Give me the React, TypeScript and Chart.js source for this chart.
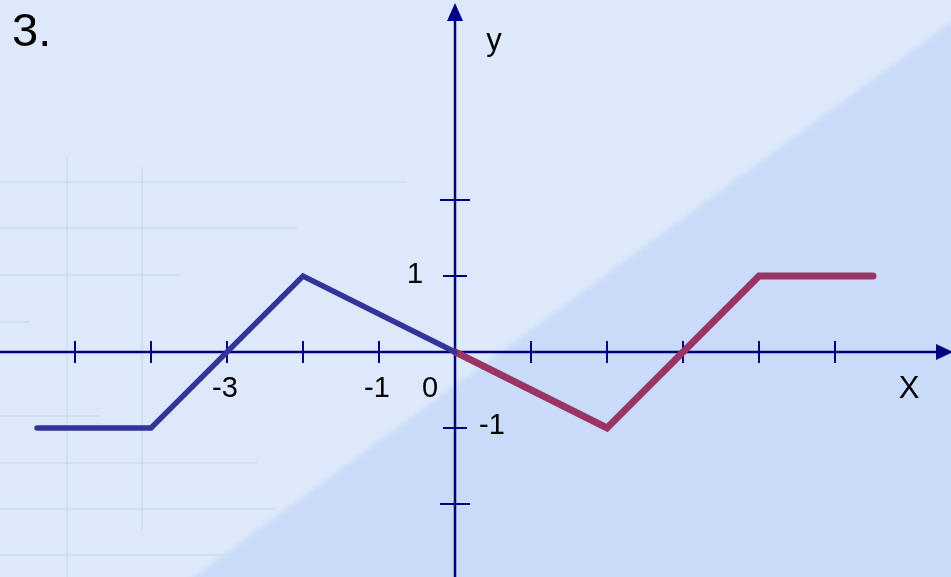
import React, { useEffect, useRef } from "react";
import { Chart, registerables } from "chart.js";

Chart.register(...registerables);

// ---- data ----
const blueX = [-5.5, -4, -2, 0];
const blueY = [-1, -1, 1, 0];
const redX = [0, 2, 4, 5.5];
const redY = [0, -1, 1, 1];
const xTickValues = [-5, -4, -3, -2, -1, 1, 2, 3, 4, 5];
const yTickValues = [-2, -1, 1, 2];
const xLabelValues = [-3, -1];
const xLabelTexts = ["-3", "-1"];
const yLabelValues = [1, -1];
const yLabelTexts = ["1", "-1"];
const originLabel = "0";
const xAxisName = "X";
const yAxisName = "y";
const titleText = "3.";

// visible window of the coordinate plane
const X_MIN = -5.987;
const X_MAX = 6.526;
const Y_MIN = -2.961;
const Y_MAX = 4.632;

const W = 951;
const H = 577;
const NAVY = "#000080";
const FONT = '"Liberation Sans", Arial, sans-serif';

const decoPlugin = {
  id: "deco",
  beforeDraw(chart: any) {
    const { ctx } = chart;
    const w = chart.width;
    const h = chart.height;
    ctx.save();
    // light background
    ctx.fillStyle = "#dde9fb";
    ctx.fillRect(0, 0, w, h);
    // faint decorative grid on the left
    ctx.strokeStyle = "rgba(150,175,215,0.17)";
    ctx.lineWidth = 2;
    const vLines = [
      [67, 157, 577],
      [142, 167, 530],
    ];
    vLines.forEach(([x, y0, y1]) => {
      ctx.beginPath();
      ctx.moveTo(x, y0);
      ctx.lineTo(x, y1);
      ctx.stroke();
    });
    const hLines = [
      [182, 407],
      [228, 297],
      [275, 180],
      [322, 30],
      [416, 101],
      [463, 257],
      [509, 275],
      [555, 553],
    ];
    hLines.forEach(([y, x1]) => {
      ctx.beginPath();
      ctx.moveTo(0, y);
      ctx.lineTo(x1, y);
      ctx.stroke();
    });
    // darker diagonal region
    ctx.filter = "blur(2px)";
    ctx.fillStyle = "#c9dbf8";
    ctx.beginPath();
    ctx.moveTo(180, h + 10);
    ctx.lineTo(w + 20, 22 - 0.72 * 20);
    ctx.lineTo(w + 20, h + 10);
    ctx.closePath();
    ctx.fill();
    ctx.filter = "none";
    ctx.restore();
  },
  beforeDatasetsDraw(chart: any) {
    const { ctx } = chart;
    const xs = chart.scales.x;
    const ys = chart.scales.y;
    const ox = xs.getPixelForValue(0);
    const oy = ys.getPixelForValue(0);
    const w = chart.width;
    const h = chart.height;
    ctx.save();
    ctx.strokeStyle = NAVY;
    ctx.fillStyle = NAVY;
    // x axis
    ctx.lineWidth = 2.5;
    ctx.beginPath();
    ctx.moveTo(0, oy);
    ctx.lineTo(w - 10, oy);
    ctx.stroke();
    // y axis
    ctx.beginPath();
    ctx.moveTo(ox, h);
    ctx.lineTo(ox, 15);
    ctx.stroke();
    // arrows
    ctx.beginPath();
    ctx.moveTo(w + 2, oy);
    ctx.lineTo(w - 15, oy - 8);
    ctx.lineTo(w - 15, oy + 8);
    ctx.closePath();
    ctx.fill();
    ctx.beginPath();
    ctx.moveTo(ox, 3);
    ctx.lineTo(ox - 8, 21);
    ctx.lineTo(ox + 8, 21);
    ctx.closePath();
    ctx.fill();
    // ticks
    ctx.lineWidth = 2;
    xTickValues.forEach((v) => {
      const px = xs.getPixelForValue(v);
      ctx.beginPath();
      ctx.moveTo(px, oy - 11);
      ctx.lineTo(px, oy + 11);
      ctx.stroke();
    });
    yTickValues.forEach((v) => {
      const py = ys.getPixelForValue(v);
      const half = Math.abs(v) > 1 ? 15 : 12;
      ctx.beginPath();
      ctx.moveTo(ox - half, py);
      ctx.lineTo(ox + half, py);
      ctx.stroke();
    });
    ctx.restore();
  },
  afterDraw(chart: any) {
    const { ctx } = chart;
    const xs = chart.scales.x;
    const ys = chart.scales.y;
    const ox = xs.getPixelForValue(0);
    const oy = ys.getPixelForValue(0);
    ctx.save();
    ctx.fillStyle = "#000000";
    ctx.font = `29px ${FONT}`;
    ctx.textBaseline = "middle";
    ctx.textAlign = "center";
    xLabelValues.forEach((v, i) => {
      ctx.fillText(xLabelTexts[i], xs.getPixelForValue(v) - 2, oy + 37);
    });
    ctx.fillText(originLabel, ox - 25, oy + 37);
    yLabelValues.forEach((v, i) => {
      if (v > 0) {
        ctx.textAlign = "right";
        ctx.fillText(yLabelTexts[i], ox - 32, ys.getPixelForValue(v) - 1);
      } else {
        ctx.textAlign = "left";
        ctx.fillText(yLabelTexts[i], ox + 24, ys.getPixelForValue(v) - 2);
      }
    });
    ctx.textAlign = "center";
    ctx.font = `31px ${FONT}`;
    ctx.fillText(xAxisName, chart.width - 42, oy + 37);
    ctx.fillText(yAxisName, ox + 39, 41);
    ctx.textAlign = "left";
    ctx.font = `47px ${FONT}`;
    ctx.fillText(titleText, 12, 33);
    ctx.restore();
  },
};

export default function App() {
  const ref = useRef<HTMLCanvasElement | null>(null);
  useEffect(() => {
    const canvas = ref.current;
    if (!canvas) return;
    const chart = new Chart(canvas, {
      type: "scatter",
      data: {
        datasets: [
          {
            label: "f1",
            data: blueX.map((x, i) => ({ x, y: blueY[i] })),
            showLine: true,
            borderColor: "#33339a",
            borderWidth: 5.5,
            borderCapStyle: "round",
            borderJoinStyle: "miter",
            pointRadius: 0,
            tension: 0,
          },
          {
            label: "f2",
            data: redX.map((x, i) => ({ x, y: redY[i] })),
            showLine: true,
            borderColor: "#9a3465",
            borderWidth: 7,
            borderCapStyle: "round",
            borderJoinStyle: "miter",
            pointRadius: 0,
            tension: 0,
          },
        ],
      },
      options: {
        responsive: false,
        animation: false,
        layout: { padding: 0 },
        plugins: {
          legend: { display: false },
          tooltip: { enabled: false },
          title: { display: false },
        },
        scales: {
          x: { type: "linear", min: X_MIN, max: X_MAX, display: false },
          y: { type: "linear", min: Y_MIN, max: Y_MAX, display: false },
        },
      } as any,
      plugins: [decoPlugin],
    });
    return () => chart.destroy();
  }, []);
  return (
    <div style={{ position: "fixed", left: 0, top: 0, width: W, height: H }}>
      <canvas ref={ref} width={W} height={H} style={{ display: "block" }} />
    </div>
  );
}
